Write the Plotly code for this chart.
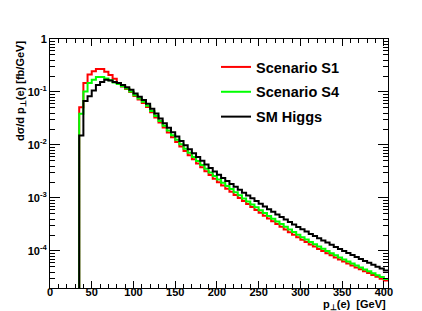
import plotly.graph_objects as go

# Bins of 5 GeV, lower edges 35 ... 400 (last bin 400-405)
bin_width = 5
bin_low = list(range(35, 405, bin_width))

scenario_s1 = [
    5.13e-2, 1.48e-1, 2.14e-1, 2.45e-1, 2.72e-1, 2.72e-1, 2.40e-1, 2.09e-1, 1.78e-1, 1.48e-1,
    1.27e-1, 1.14e-1, 1.00e-1, 8.41e-2, 7.23e-2, 6.22e-2, 5.22e-2, 4.15e-2, 3.30e-2, 2.65e-2,
    2.13e-2, 1.72e-2, 1.40e-2, 1.14e-2, 9.38e-3, 7.74e-3, 6.43e-3, 5.36e-3, 4.49e-3, 3.78e-3,
    3.19e-3, 2.71e-3, 2.31e-3, 1.98e-3, 1.72e-3, 1.50e-3, 1.31e-3, 1.14e-3, 1.00e-3, 8.75e-4,
    7.67e-4, 6.75e-4, 5.94e-4, 5.24e-4, 4.62e-4, 4.09e-4, 3.62e-4, 3.21e-4, 2.86e-4, 2.54e-4,
    2.26e-4, 2.02e-4, 1.81e-4, 1.62e-4, 1.47e-4, 1.33e-4, 1.21e-4, 1.09e-4, 9.95e-5, 9.06e-5,
    8.26e-5, 7.53e-5, 6.89e-5, 6.30e-5, 5.79e-5, 5.33e-5, 4.90e-5, 4.51e-5, 4.15e-5, 3.83e-5,
    3.53e-5, 3.26e-5, 3.00e-5, 2.76e-5,
]

scenario_s4 = [
    3.89e-2, 1.02e-1, 1.48e-1, 1.70e-1, 1.91e-1, 1.91e-1, 1.80e-1, 1.66e-1, 1.51e-1, 1.41e-1,
    1.29e-1, 1.16e-1, 1.02e-1, 8.71e-2, 7.53e-2, 6.52e-2, 5.51e-2, 4.40e-2, 3.52e-2, 2.84e-2,
    2.30e-2, 1.87e-2, 1.52e-2, 1.25e-2, 1.03e-2, 8.53e-3, 7.10e-3, 5.93e-3, 4.98e-3, 4.20e-3,
    3.56e-3, 3.03e-3, 2.59e-3, 2.22e-3, 1.93e-3, 1.68e-3, 1.47e-3, 1.28e-3, 1.12e-3, 9.82e-4,
    8.61e-4, 7.57e-4, 6.67e-4, 5.87e-4, 5.19e-4, 4.59e-4, 4.06e-4, 3.61e-4, 3.21e-4, 2.85e-4,
    2.54e-4, 2.27e-4, 2.03e-4, 1.82e-4, 1.64e-4, 1.48e-4, 1.34e-4, 1.21e-4, 1.10e-4, 9.98e-5,
    9.08e-5, 8.26e-5, 7.55e-5, 6.90e-5, 6.32e-5, 5.79e-5, 5.31e-5, 4.88e-5, 4.48e-5, 4.12e-5,
    3.79e-5, 3.49e-5, 3.21e-5, 2.96e-5,
]

sm_higgs = [
    1.51e-2, 6.76e-2, 8.32e-2, 1.07e-1, 1.35e-1, 1.55e-1, 1.70e-1, 1.64e-1, 1.55e-1, 1.48e-1,
    1.35e-1, 1.23e-1, 1.10e-1, 9.33e-2, 8.13e-2, 7.08e-2, 6.03e-2, 4.84e-2, 3.91e-2, 3.17e-2,
    2.58e-2, 2.11e-2, 1.74e-2, 1.44e-2, 1.19e-2, 9.93e-3, 8.32e-3, 7.00e-3, 5.92e-3, 5.02e-3,
    4.29e-3, 3.67e-3, 3.16e-3, 2.74e-3, 2.39e-3, 2.10e-3, 1.84e-3, 1.62e-3, 1.43e-3, 1.26e-3,
    1.11e-3, 9.84e-4, 8.73e-4, 7.74e-4, 6.89e-4, 6.14e-4, 5.47e-4, 4.89e-4, 4.38e-4, 3.92e-4,
    3.52e-4, 3.16e-4, 2.84e-4, 2.56e-4, 2.32e-4, 2.10e-4, 1.91e-4, 1.73e-4, 1.58e-4, 1.44e-4,
    1.31e-4, 1.19e-4, 1.09e-4, 9.98e-5, 9.14e-5, 8.38e-5, 7.67e-5, 7.05e-5, 6.47e-5, 5.96e-5,
    5.48e-5, 5.05e-5, 4.65e-5, 4.28e-5,
]

series = [
    ("Scenario S1", scenario_s1, "#ff0000"),
    ("Scenario S4", scenario_s4, "#00ff00"),
    ("SM Higgs", sm_higgs, "#000000"),
]

x_range = [0, 405]
y_min, y_max = 2e-5, 1.0
y_ticks = [1e-4, 1e-3, 1e-2, 1e-1, 1]
y_ticktext = ["10<sup>-4</sup>", "10<sup>-3</sup>", "10<sup>-2</sup>", "10<sup>-1</sup>", "1"]

FONT = "Liberation Sans, Arial, Helvetica, sans-serif"

fig = go.Figure()
edges = bin_low + [bin_low[-1] + bin_width]
for i, (name, vals, color) in enumerate(series):
    xs = [edges[0]] + edges
    ys = [y_min * 1e-3] + list(vals) + [vals[-1]]
    fig.add_trace(go.Scatter(
        x=xs, y=ys, mode="lines", name=name,
        line=dict(color=color, width=2, shape="hv"),
        legendgroup=name,
    ))

minor_log = [m * 10.0 ** e for e in range(-5, 0) for m in range(2, 10)]
minor_log = [v for v in minor_log if y_min <= v <= y_max]

fig.update_layout(
    width=422, height=311,
    margin=dict(l=42, r=42, t=31, b=31),
    paper_bgcolor="white", plot_bgcolor="white",
    font=dict(family=FONT, size=11, color="black", weight="bold"),
    showlegend=True,
    legend=dict(
        x=(208 - 42) / 338, y=(280 - 43) / 249, xanchor="left", yanchor="top",
        bgcolor="rgba(0,0,0,0)", borderwidth=0,
        font=dict(family=FONT, size=14.5, color="black", weight="bold"),
        tracegroupgap=3, traceorder="grouped",
    ),
    xaxis=dict(
        range=x_range, showgrid=False, zeroline=False,
        showline=True, linecolor="black", linewidth=1, mirror="ticks",
        ticks="inside", ticklen=7, tickcolor="black", tickwidth=1,
        tick0=0, dtick=50, ticklabelstandoff=-6,
        minor=dict(ticks="inside", ticklen=4, dtick=10, tickcolor="black", showgrid=False),
        tickfont=dict(family=FONT, size=11, color="black", weight="bold"),
    ),
    yaxis=dict(
        type="log", range=[-4.699, 0], showgrid=False, zeroline=False,
        showline=True, linecolor="black", linewidth=1, mirror="ticks",
        ticks="inside", ticklen=10, tickcolor="black", tickwidth=1,
        tickvals=y_ticks, ticktext=y_ticktext,
        minor=dict(ticks="inside", ticklen=5, tickvals=minor_log, tickcolor="black", showgrid=False),
        tickfont=dict(family=FONT, size=11, color="black", weight="bold"),
    ),
    annotations=[
        dict(text="dσ/d p<sub>⊥</sub>(e) [fb/GeV]", textangle=-90,
             xref="paper", yref="paper", x=(13 - 42) / 338, y=1.0,
             xanchor="center", yanchor="top", showarrow=False,
             font=dict(family=FONT, size=11, color="black", weight="bold")),
        dict(text="p<sub>⊥</sub>(e)  [GeV]",
             xref="paper", yref="paper", x=1.0, y=(280 - 297) / 249,
             xanchor="right", yanchor="middle", showarrow=False,
             font=dict(family=FONT, size=11, color="black", weight="bold")),
    ],
)

fig.write_html("out.html")
